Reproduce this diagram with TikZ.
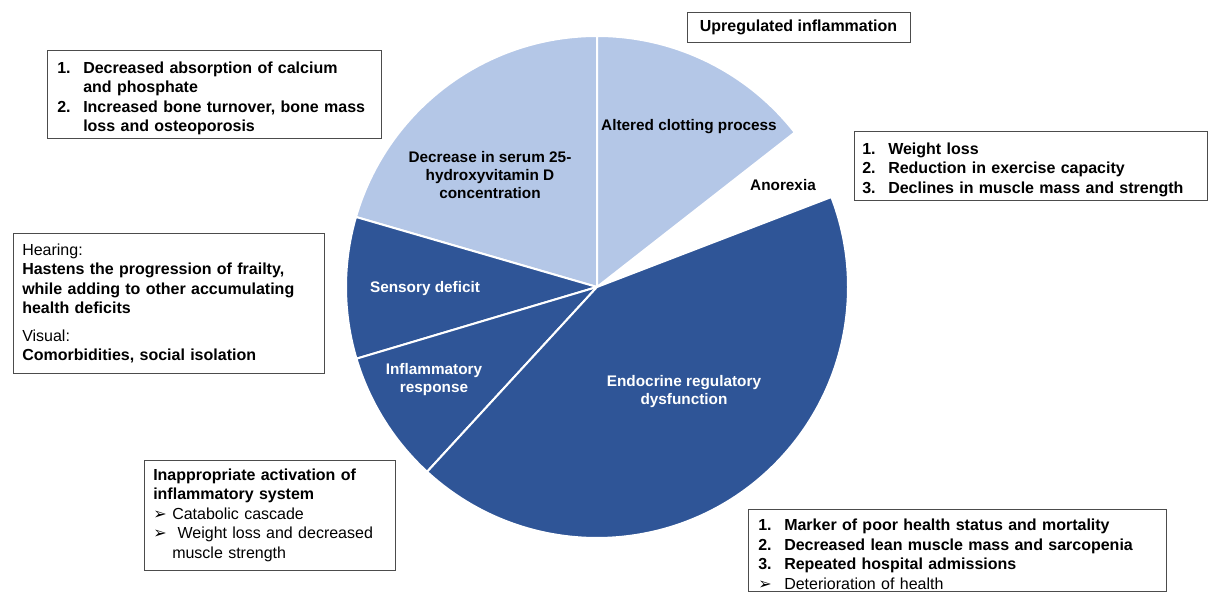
\documentclass[tikz,border=0pt]{standalone}
\usepackage{graphicx}
\usepackage{fontspec}
\setmainfont{Liberation Sans}
\newfontfamily\arrowfont{DejaVu Sans}
\usetikzlibrary{positioning}
\definecolor{piedark}{HTML}{2F5597}
\definecolor{pielight}{HTML}{B4C7E7}
\newcommand{\numline}[2]{\par\hangindent=19.5pt\hangafter=1\noindent\makebox[19.5pt][l]{#1}#2}
\newcommand{\wrapline}{\hfill\break}
\newcommand{\arrowbullet}{\makebox[14.25pt][l]{\arrowfont ➢}}
\tikzset{
  slice/.style={draw=white, line width=1.5pt, line join=round},
  darkslice/.style={slice, fill=piedark},
  lightslice/.style={slice, fill=pielight},
  slicelabel/.style={font=\bfseries\fontsize{11.5}{13.5}\selectfont, align=center},
  notebox/.style={draw=black!70, fill=white, align=left, inner xsep=7.5pt, inner ysep=4pt, font=\fontsize{12}{14.6}\selectfont, anchor=north west}
}

\begin{document}
\begin{tikzpicture}[x=0.75pt, y=0.75pt]
    \useasboundingbox (0,0) rectangle (1208,592);
    \clip (0,0) rectangle (1208,592);
    \coordinate (pc) at (597,305);

    % pie slices
    \draw[lightslice] (pc) -- ++(90:251) arc[start angle=90, end angle=163.8, radius=188.25pt] -- cycle;
    \draw[darkslice] (pc) -- ++(163.8:251) arc[start angle=163.8, end angle=196.6, radius=188.25pt] -- cycle;
    \draw[darkslice] (pc) -- ++(196.6:251) arc[start angle=196.6, end angle=227.4, radius=188.25pt] -- cycle;
    \draw[darkslice] (pc) -- ++(227.4:251) arc[start angle=227.4, end angle=381, radius=188.25pt] -- cycle;
    \draw[lightslice] (pc) -- ++(38:251) arc[start angle=38, end angle=90, radius=188.25pt] -- cycle;

    % slice labels
    \node[slicelabel] (clot) at (689,465) {Altered clotting process};
    \node[slicelabel] (vitd) at (490,417) {Decrease in serum 25-\\hydroxyvitamin D\\concentration};
    \node[slicelabel] (anorexia) at (783,407) {Anorexia};
    \node[slicelabel, text=white] (sensory) at (425,303) {Sensory deficit};
    \node[slicelabel, text=white] (inflam) at (434,212) {Inflammatory\\response};
    \node[slicelabel, text=white] (endo) at (684,200) {Endocrine regulatory\\dysfunction};

    % notes round the pie
    \node[notebox, inner ysep=1pt, text width=235.5pt, minimum height=66pt] (vitdnote) at (47,542) {\bfseries\numline{1.}{Decreased absorption of calcium\wrapline and phosphate}\numline{2.}{Increased bone turnover, bone mass\wrapline loss and osteoporosis}\par};
    \node[notebox, anchor=center, align=center, minimum width=167.25pt, minimum height=22.5pt, font=\bfseries\fontsize{12}{14.6}\selectfont] (clotnote) at (798.5,565) {Upregulated inflammation};
    \node[notebox, inner xsep=6pt, inner ysep=1pt, text width=252.75pt, minimum height=51.75pt] (anorexianote) at (854,461) {\bfseries\numline{1.}{Weight loss}\numline{2.}{Reduction in exercise capacity}\numline{3.}{Declines in muscle mass and strength}\par};
    \node[notebox, inner xsep=6.75pt, text width=219.75pt, minimum height=105pt] (sensorynote) at (13,359) {Hearing:\\{\bfseries Hastens the progression of frailty,\\while adding to other accumulating\\health deficits}\\[6pt]Visual:\\{\bfseries Comorbidities, social isolation}};
    \node[notebox, inner xsep=6.75pt, text width=174.75pt, minimum height=82.5pt] (inflamnote) at (144,132) {{\bfseries Inappropriate activation of\\inflammatory system}\\\arrowbullet Catabolic cascade\\\arrowbullet\ Weight loss and decreased\\\hspace*{14.25pt}muscle strength};
    \node[notebox, inner ysep=1.5pt, text width=298.5pt] (endonote) at (748,83) {\bfseries\numline{1.}{Marker of poor health status and mortality}\numline{2.}{Decreased lean muscle mass and sarcopenia}\numline{3.}{Repeated hospital admissions}\numline{\mdseries\arrowbullet}{\mdseries Deterioration of health}\par};
\end{tikzpicture}
\end{document}
